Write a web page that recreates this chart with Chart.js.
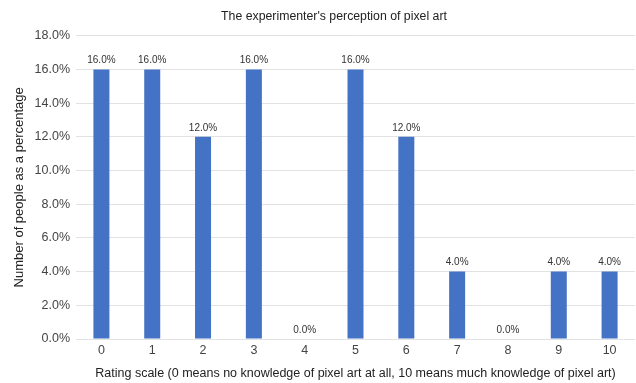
<!DOCTYPE html>
<html>
<head>
<meta charset="utf-8">
<script src="https://cdn.jsdelivr.net/npm/chart.js@4/dist/chart.umd.min.js"></script>
<style>
  html, body { margin: 0; padding: 0; background: #fff; }
  canvas { display: block; }
</style>
</head>
<body>
<canvas id="ratingChart" width="636" height="383"></canvas>
<script>
const ratings = ['0', '1', '2', '3', '4', '5', '6', '7', '8', '9', '10'];
const shares = [16, 16, 12, 16, 0, 16, 12, 4, 0, 4, 4];
const yMin = 0;
const yMax = 18;
const yStep = 2;

const chartTitle = "The experimenter's perception of pixel art";
const fontFamily = '"Liberation Sans", Arial, sans-serif';

// chart title, sits a little right of the canvas centre
const titleText = {
  id: 'titleText',
  afterDraw(chart) {
    const ctx = chart.ctx;
    ctx.save();
    ctx.font = '12.3px ' + fontFamily;
    ctx.fillStyle = '#222';
    ctx.textAlign = 'center';
    ctx.textBaseline = 'middle';
    ctx.fillText(chartTitle, 334, 17);
    ctx.restore();
  }
};

// writes the value above each bar
const barLabels = {
  id: 'barLabels',
  afterDatasetsDraw(chart) {
    const ctx = chart.ctx;
    const meta = chart.getDatasetMeta(0);
    ctx.save();
    ctx.font = '10px ' + fontFamily;
    ctx.fillStyle = '#333';
    ctx.textAlign = 'center';
    ctx.textBaseline = 'bottom';
    meta.data.forEach((bar, i) => {
      ctx.fillText(shares[i].toFixed(1) + '%', bar.x, bar.y - 4);
    });
    ctx.restore();
  }
};

new Chart(document.getElementById('ratingChart'), {
  type: 'bar',
  data: {
    labels: ratings,
    datasets: [{
      data: shares,
      backgroundColor: '#4472C4',
      barPercentage: 0.315,
      categoryPercentage: 1
    }]
  },
  options: {
    responsive: false,
    animation: false,
    layout: { padding: { left: 0, right: 1, top: 35.7, bottom: 0 } },
    plugins: {
      legend: { display: false },
      tooltip: { enabled: false },
      title: { display: false }
    },
    scales: {
      x: {
        grid: { display: false, drawTicks: false },
        border: { display: false },
        ticks: {
          color: '#444',
          font: { family: fontFamily, size: 12.5 },
          padding: 4
        },
        title: {
          display: true,
          text: 'Rating scale (0 means no knowledge of pixel art at all, 10 means much knowledge of pixel art)',
          color: '#222',
          font: { family: fontFamily, size: 12.5 },
          padding: { top: 0, bottom: 1.5 }
        },
        afterFit(scale) { scale.height = 44; }
      },
      y: {
        min: yMin,
        max: yMax,
        grid: { color: '#e2e2e2', lineWidth: 1, drawTicks: false },
        border: { display: false },
        ticks: {
          stepSize: yStep,
          color: '#444',
          font: { family: fontFamily, size: 12.5 },
          padding: 6,
          callback: v => v.toFixed(1) + '%'
        },
        title: {
          display: true,
          text: 'Number of people as a percentage',
          color: '#222',
          font: { family: fontFamily, size: 13 },
          padding: { top: 12, bottom: 0 }
        },
        afterFit(scale) { scale.width = 76; }
      }
    }
  },
  plugins: [barLabels, titleText]
});
</script>
</body>
</html>
